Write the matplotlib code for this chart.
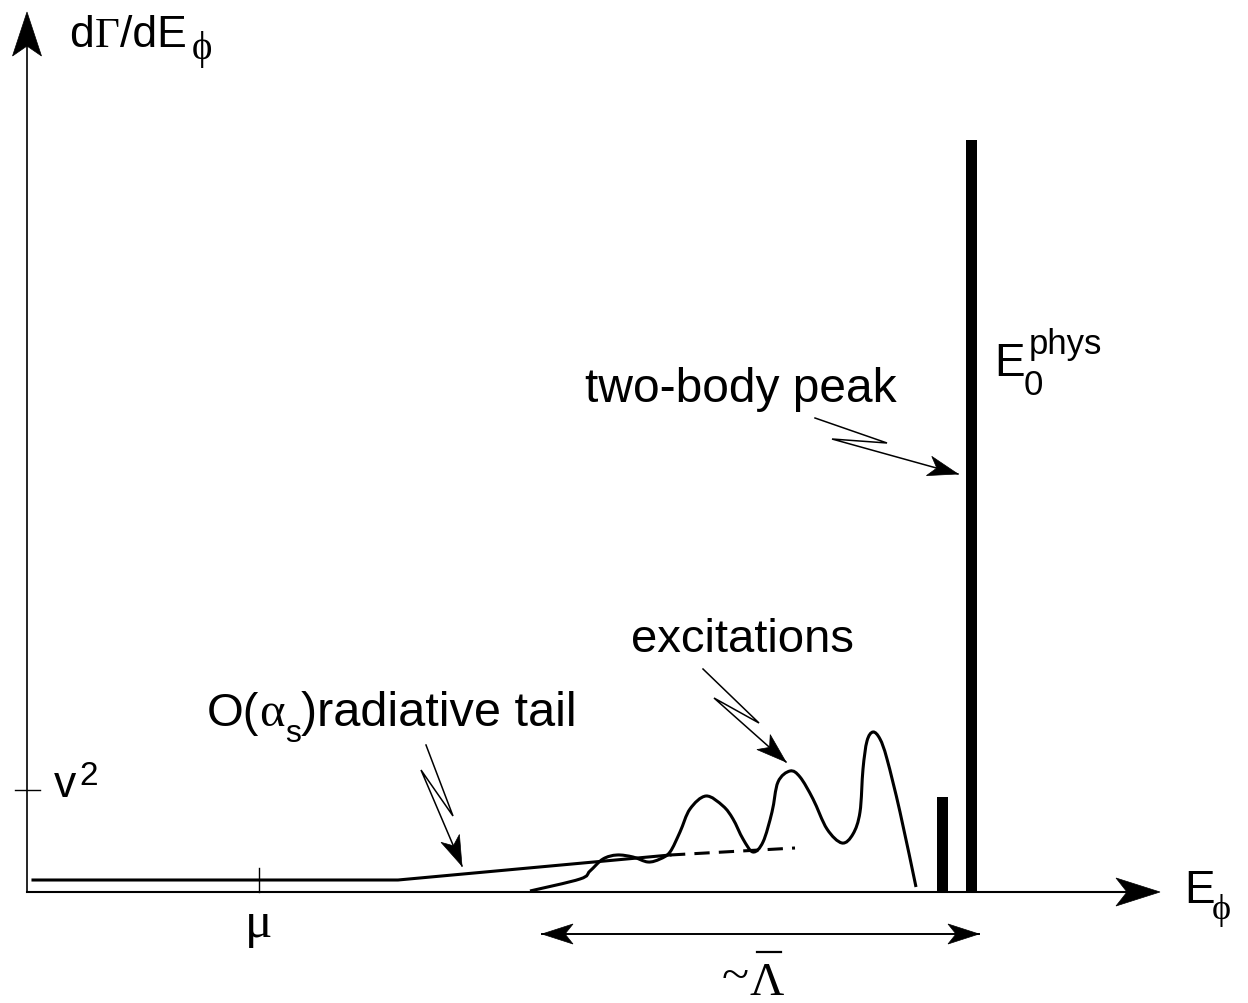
import numpy as np
import matplotlib
matplotlib.use('Agg')
from matplotlib import pyplot as plt
from matplotlib.patches import Polygon, PathPatch
from matplotlib.path import Path

# all coordinates in picture pixels, y grows downward
W, H = 1248, 1004
x0, y0 = 27, 893          # axis origin

# flat part + O(alpha_s) radiative tail
tail_x = [33, 398, 670]
tail_y = [881, 881, 856]
dash_x = [670, 795]
dash_y = [856, 849]

# excitations
exc_x = [530, 580, 590, 603, 617, 633, 648, 660, 670, 680, 690, 706, 723, 733,
         743, 753, 763, 772, 778, 790, 800, 813, 827, 842, 853, 860, 863, 867,
         873, 880, 887, 900, 916]
exc_y = [892, 880, 872, 860, 856, 858, 863, 860, 853, 833, 810, 797, 807, 820,
         840, 853, 843, 813, 783, 772, 778, 800, 830, 844, 835, 813, 770, 742,
         733, 740, 760, 813, 888]

# delta peaks
peak_x = [942, 971]
peak_top = [798, 141]
peak_w = [11, 11]

mu_x = 259
v2_y = 791

# lightning arrows
bolt_tail_x = [426, 453, 421, 462]
bolt_tail_y = [746, 817, 771, 867]
bolt_exc_x = [703, 759, 714, 786]
bolt_exc_y = [670, 724, 699, 763]
bolt_peak_x = [815, 887, 832, 958]
bolt_peak_y = [419, 444, 440, 475]

range_x = [542, 979]
range_y = 935

SANS = ['Liberation Sans', 'DejaVu Sans']
SERIF = ['Liberation Serif', 'DejaVu Serif']


def head(ax, tip, frm, length, half, notch):
    tip = np.array(tip, float)
    frm = np.array(frm, float)
    d = tip - frm
    d /= np.hypot(*d)
    n = np.array([-d[1], d[0]])
    base = tip - d * length
    pts = [tip, base + n * half, tip - d * (length - notch), base - n * half]
    ax.add_patch(Polygon(pts, closed=True, fc='k', ec='k', lw=0.5, zorder=5))


def bolt(ax, xs, ys):
    ax.plot(xs, ys, color='k', lw=1.1, solid_joinstyle='miter')
    head(ax, (xs[-1], ys[-1]), (xs[-2], ys[-2]), 30, 10, 8)


def smooth_path(xs, ys):
    # catmull-rom through the read points, drawn as cubic beziers
    p = np.column_stack([xs, ys]).astype(float)
    q = np.vstack([p[0], p, p[-1]])
    verts = [p[0]]
    codes = [Path.MOVETO]
    for i in range(1, len(q) - 2):
        c1 = q[i] + (q[i + 1] - q[i - 1]) / 6
        c2 = q[i + 1] - (q[i + 2] - q[i]) / 6
        verts += [c1, c2, q[i + 1]]
        codes += [Path.CURVE4] * 3
    return Path(verts, codes)


def txt(ax, x, y, s, size, fam=SANS):
    return ax.text(x, y, s, fontsize=size, family=fam, ha='left', va='baseline')


def chain(ax, x, y, parts):
    # place pieces one after another, each starting where the last one ended
    r = fig.canvas.get_renderer()
    for s, size, fam, dy, gap in parts:
        t = txt(ax, x + gap, y + dy, s, size, fam)
        x = t.get_window_extent(renderer=r).x1


fig = plt.figure(figsize=(W / 100, H / 100), dpi=100)
ax = fig.add_axes([0, 0, 1, 1])
ax.set_xlim(0, W)
ax.set_ylim(H, 0)
ax.axis('off')

# axes
ax.plot([x0, x0], [y0, 40], color='k', lw=1.2)
head(ax, (x0, 13), (x0, y0), 44, 14.5, 10)
ax.plot([x0, 1140], [y0, y0], color='k', lw=1.5)
head(ax, (1160, y0), (x0, y0), 44, 14, 11)

# ticks
ax.plot([mu_x, mu_x], [869, y0], color='k', lw=1.0)
ax.plot([15, 40], [v2_y, v2_y], color='k', lw=1.0)

# spectrum
ax.plot(tail_x, tail_y, color='k', lw=2.2)
ax.plot(dash_x, dash_y, color='k', lw=2.2, dashes=(5, 3))
ax.add_patch(PathPatch(smooth_path(exc_x, exc_y), fc='none', ec='k', lw=2.2))
ax.bar(peak_x, [y0 - t for t in peak_top], bottom=peak_top, width=peak_w,
       color='k', zorder=4)

# lightning arrows
bolt(ax, bolt_tail_x, bolt_tail_y)
bolt(ax, bolt_exc_x, bolt_exc_y)
bolt(ax, bolt_peak_x, bolt_peak_y)

# range arrow
ax.plot(range_x, [range_y, range_y], color='k', lw=1.4)
head(ax, (range_x[0], range_y), (range_x[1], range_y), 31, 10, 8)
head(ax, (range_x[1], range_y), (range_x[0], range_y), 31, 10, 8)

# axis labels
chain(ax, 69, 47, [('d', 32, SANS, 0, 0),
                   ('\u0393', 31, SERIF, 0, 1),
                   ('/dE', 32, SANS, 0, 0),
                   ('\u03d5', 28, SERIF, 12, 5)])

txt(ax, 1184, 903, 'E', 33)
txt(ax, 1212, 919, '\u03d5', 26, SERIF)

# peak label
txt(ax, 994, 376, 'E', 33)
txt(ax, 1024, 395, '0', 25)
txt(ax, 1029, 354, 'phys', 25)

txt(ax, 585, 402, 'two-body peak', 34.5)
txt(ax, 631, 652, 'excitations', 34)

chain(ax, 207, 726, [('O(', 34, SANS, 0, 0),
                     ('\u03b1', 35, SERIF, 0, 0),
                     ('s', 23, SANS, 16, 0),
                     (')radiative tail', 35, SANS, 0, 0)])

txt(ax, 54, 797, 'v', 32)
txt(ax, 79, 785, '2', 24)
txt(ax, 245, 937, '\u03bc', 37, SERIF)

txt(ax, 722, 990, '~', 36, SERIF)
txt(ax, 750, 995, '\u039b', 34, SERIF)
ax.plot([757, 781], [953, 953], color='k', lw=1.6)

fig.savefig('out.png', dpi=100)
